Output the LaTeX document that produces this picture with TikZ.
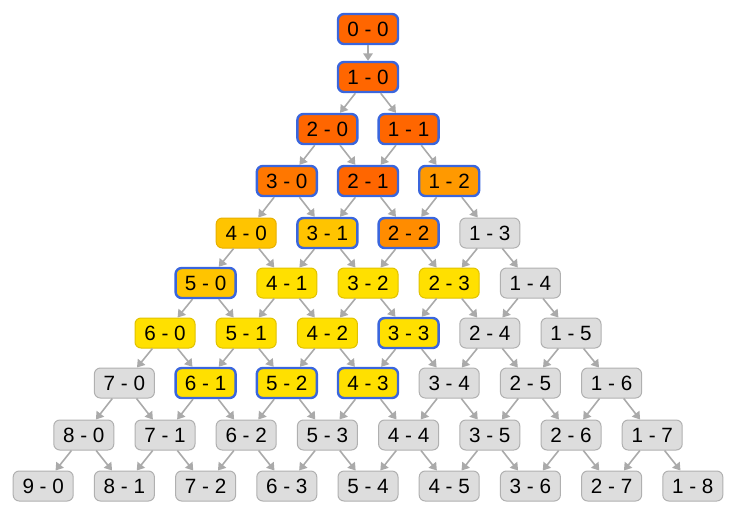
\documentclass[tikz,border=0pt]{standalone}
\usepackage{fontspec}
\setmainfont{Liberation Sans}
\usetikzlibrary{arrows.meta}
\definecolor{orfonce}{HTML}{FF6600}
\definecolor{ortrois}{HTML}{FF7700}
\definecolor{ordeux}{HTML}{FF8C00}
\definecolor{orclair}{HTML}{FF9900}
\definecolor{orjaune}{HTML}{FFC400}
\definecolor{orbord}{HTML}{E6B000}
\definecolor{jaune}{HTML}{FFE000}
\definecolor{jaunebord}{HTML}{E0C200}
\definecolor{grisfond}{HTML}{DDDDDD}
\definecolor{grisbord}{HTML}{B0B0B0}
\definecolor{grisfleche}{HTML}{AAAAAA}
\definecolor{bleu}{HTML}{3A66DD}

\begin{document}
\begin{tikzpicture}[x=0.75pt,y=-0.75pt, % une unite = un pixel
  score/.style={draw=grisbord,fill=grisfond,rounded corners=4.5pt,minimum width=45pt,
    minimum height=22.5pt,inner sep=0pt,line width=0.75pt,font=\fontsize{15.5}{17}\selectfont},
  vu/.style={draw=bleu,line width=1.8pt},
  jaunet/.style={fill=jaune,draw=jaunebord},
  fl/.style={draw=grisfleche,line width=1.2pt,-{Triangle[length=5.5pt,width=7pt]}}]
\useasboundingbox (0,0) rectangle (737,514);
% ligne 0 et 1
\node[score,vu,fill=orfonce] (s00) at (368,29) {0 - 0};
\node[score,vu,fill=orfonce] (s10) at (368,77) {1 - 0};
% ligne 2
\node[score,vu,fill=orfonce] (s20) at (327.4,129) {2 - 0};
\node[score,vu,fill=orfonce] (s11) at (408.6,129) {1 - 1};
% ligne 3
\node[score,vu,fill=ortrois] (s30) at (286.8,181) {3 - 0};
\node[score,vu,fill=orfonce] (s21) at (368,181) {2 - 1};
\node[score,vu,fill=orclair] (s12) at (449.2,181) {1 - 2};
% ligne 4
\node[score,fill=orjaune,draw=orbord] (s40) at (246.2,233) {4 - 0};
\node[score,vu,fill=orjaune] (s31) at (327.4,233) {3 - 1};
\node[score,vu,fill=ordeux] (s22) at (408.6,233) {2 - 2};
\node[score] (s13) at (489.8,233) {1 - 3};
% ligne 5
\node[score,vu,fill=orjaune] (s50) at (205.6,283) {5 - 0};
\node[score,jaunet] (s41) at (286.8,283) {4 - 1};
\node[score,jaunet] (s32) at (368,283) {3 - 2};
\node[score,jaunet] (s23) at (449.2,283) {2 - 3};
\node[score] (s14) at (530.4,283) {1 - 4};
% ligne 6
\node[score,jaunet] (s60) at (165,333) {6 - 0};
\node[score,jaunet] (s51) at (246.2,333) {5 - 1};
\node[score,jaunet] (s42) at (327.4,333) {4 - 2};
\node[score,jaunet,vu] (s33) at (408.6,333) {3 - 3};
\node[score] (s24) at (489.8,333) {2 - 4};
\node[score] (s15) at (571,333) {1 - 5};
% ligne 7
\node[score] (s70) at (124.4,383) {7 - 0};
\node[score,jaunet,vu] (s61) at (205.6,383) {6 - 1};
\node[score,jaunet,vu] (s52) at (286.8,383) {5 - 2};
\node[score,jaunet,vu] (s43) at (368,383) {4 - 3};
\node[score] (s34) at (449.2,383) {3 - 4};
\node[score] (s25) at (530.4,383) {2 - 5};
\node[score] (s16) at (611.6,383) {1 - 6};
% ligne 8
\node[score] (s80) at (83.8,435) {8 - 0};
\node[score] (s71) at (165,435) {7 - 1};
\node[score] (s62) at (246.2,435) {6 - 2};
\node[score] (s53) at (327.4,435) {5 - 3};
\node[score] (s44) at (408.6,435) {4 - 4};
\node[score] (s35) at (489.8,435) {3 - 5};
\node[score] (s26) at (571,435) {2 - 6};
\node[score] (s17) at (652.2,435) {1 - 7};
% ligne 9
\node[score] (s90) at (43.2,486) {9 - 0};
\node[score] (s81) at (124.4,486) {8 - 1};
\node[score] (s72) at (205.6,486) {7 - 2};
\node[score] (s63) at (286.8,486) {6 - 3};
\node[score] (s54) at (368,486) {5 - 4};
\node[score] (s45) at (449.2,486) {4 - 5};
\node[score] (s36) at (530.4,486) {3 - 6};
\node[score] (s27) at (611.6,486) {2 - 7};
\node[score] (s18) at (692.8,486) {1 - 8};
% les fleches
\path[fl] (s00) edge[fl] (s10);
\path[fl] (s10) edge[fl] (s20) edge[fl] (s11);
\path[fl] (s20) edge[fl] (s30) edge[fl] (s21);
\path[fl] (s11) edge[fl] (s21) edge[fl] (s12);
\path[fl] (s30) edge[fl] (s40) edge[fl] (s31);
\path[fl] (s21) edge[fl] (s31) edge[fl] (s22);
\path[fl] (s12) edge[fl] (s22) edge[fl] (s13);
\path[fl] (s40) edge[fl] (s50) edge[fl] (s41);
\path[fl] (s31) edge[fl] (s41) edge[fl] (s32);
\path[fl] (s22) edge[fl] (s32) edge[fl] (s23);
\path[fl] (s13) edge[fl] (s23) edge[fl] (s14);
\path[fl] (s50) edge[fl] (s60) edge[fl] (s51);
\path[fl] (s41) edge[fl] (s51) edge[fl] (s42);
\path[fl] (s32) edge[fl] (s42) edge[fl] (s33);
\path[fl] (s23) edge[fl] (s33) edge[fl] (s24);
\path[fl] (s14) edge[fl] (s24) edge[fl] (s15);
\path[fl] (s60) edge[fl] (s70) edge[fl] (s61);
\path[fl] (s51) edge[fl] (s61) edge[fl] (s52);
\path[fl] (s42) edge[fl] (s52) edge[fl] (s43);
\path[fl] (s33) edge[fl] (s43) edge[fl] (s34);
\path[fl] (s24) edge[fl] (s34) edge[fl] (s25);
\path[fl] (s15) edge[fl] (s25) edge[fl] (s16);
\path[fl] (s70) edge[fl] (s80) edge[fl] (s71);
\path[fl] (s61) edge[fl] (s71) edge[fl] (s62);
\path[fl] (s52) edge[fl] (s62) edge[fl] (s53);
\path[fl] (s43) edge[fl] (s53) edge[fl] (s44);
\path[fl] (s34) edge[fl] (s44) edge[fl] (s35);
\path[fl] (s25) edge[fl] (s35) edge[fl] (s26);
\path[fl] (s16) edge[fl] (s26) edge[fl] (s17);
\path[fl] (s80) edge[fl] (s90) edge[fl] (s81);
\path[fl] (s71) edge[fl] (s81) edge[fl] (s72);
\path[fl] (s62) edge[fl] (s72) edge[fl] (s63);
\path[fl] (s53) edge[fl] (s63) edge[fl] (s54);
\path[fl] (s44) edge[fl] (s54) edge[fl] (s45);
\path[fl] (s35) edge[fl] (s45) edge[fl] (s36);
\path[fl] (s26) edge[fl] (s36) edge[fl] (s27);
\path[fl] (s17) edge[fl] (s27) edge[fl] (s18);
\end{tikzpicture}
\end{document}
